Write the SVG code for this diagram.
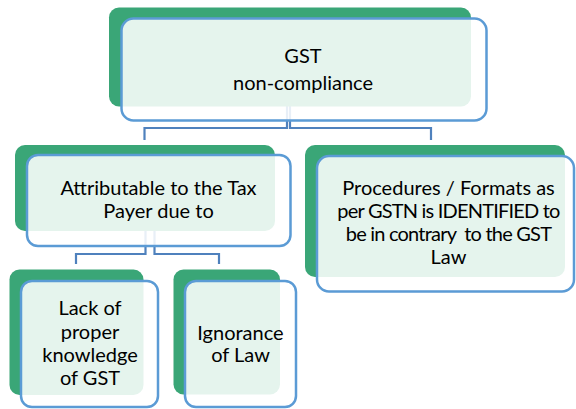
<svg xmlns="http://www.w3.org/2000/svg" width="576" height="409" viewBox="0 0 576 409">
<style>
.bg{fill:#3AA677}
.fg{fill:#ffffff;fill-opacity:0.87;stroke:#5B9BD5;stroke-width:2.5}
.t{font-family:Lato,"Liberation Sans",sans-serif;font-size:20px;fill:#000;text-anchor:middle}
.n{letter-spacing:-0.8px}
.c{fill:none;stroke:#4F81BD;stroke-width:2.2}
</style>
<rect width="576" height="409" fill="#fff"/>
<g id="connectors">
<path class="c" d="M287,100 V128 H144.5 V140"/>
<path class="c" d="M290,100 V128 H431 V140"/>
<path class="c" d="M145.5,225 V254 H76 V264"/>
<path class="c" d="M154.5,225 V254 H219 V264"/>
</g>
<g id="node-gst">
<rect class="bg" x="109" y="7.5" width="362" height="99" rx="10"/>
<rect class="fg" x="121.5" y="18.5" width="365" height="102" rx="12"/>
<text class="t" x="303" y="63">GST</text>
<text class="t" x="303" y="90">non-compliance</text>
</g>
<g id="node-taxpayer">
<rect class="bg" x="15" y="145" width="260" height="86" rx="10"/>
<rect class="fg" x="27" y="155" width="263.5" height="91" rx="11"/>
<text class="t" x="158.5" y="195">Attributable to the Tax</text>
<text class="t" x="158.5" y="218">Payer due to</text>
</g>
<g id="node-procedures">
<rect class="bg" x="305" y="145" width="260" height="132" rx="10"/>
<rect class="fg" x="317" y="156" width="257" height="135.5" rx="12"/>
<text class="t" x="448.5" y="195">Procedures / Formats as</text>
<text class="t n" x="448.5" y="217.5">per GSTN is IDENTIFIED to</text>
<text class="t n" x="448.5" y="240.5" xml:space="preserve">be in contrary  to the GST</text>
<text class="t" x="448.5" y="263.5">Law</text>
</g>
<g id="node-lack">
<rect class="bg" x="9.5" y="269.5" width="134" height="125.5" rx="10"/>
<rect class="fg" x="21" y="281" width="137" height="126" rx="11"/>
<text class="t" x="90" y="315">Lack of</text>
<text class="t" x="90" y="339">proper</text>
<text class="t" x="90" y="362">knowledge</text>
<text class="t" x="90" y="385">of GST</text>
</g>
<g id="node-ignorance">
<rect class="bg" x="173.5" y="269.5" width="106.5" height="125" rx="10"/>
<rect class="fg" x="185" y="281" width="111" height="126" rx="11"/>
<text class="t" x="240.5" y="340">Ignorance</text>
<text class="t" x="240.5" y="362">of Law</text>
</g>
</svg>
